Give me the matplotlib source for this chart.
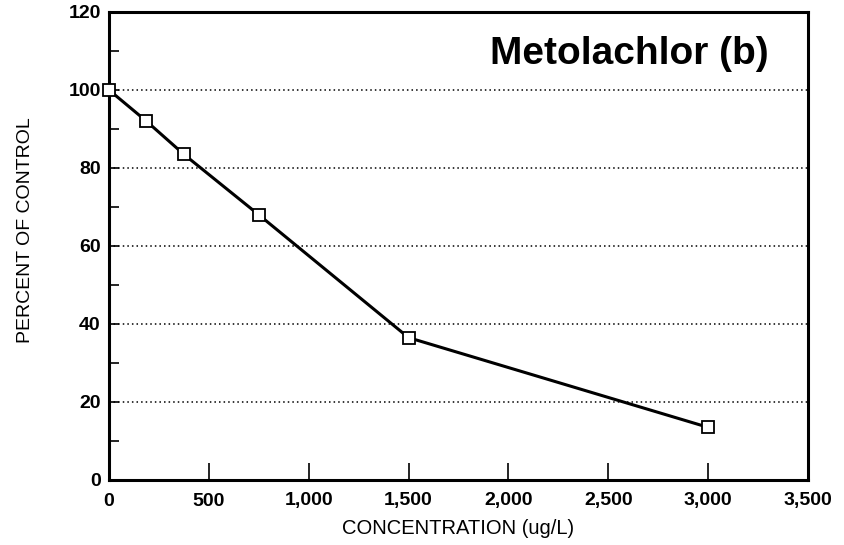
import matplotlib
matplotlib.use("Agg")
import matplotlib.pyplot as plt
from matplotlib.ticker import MultipleLocator, FuncFormatter

concentration = [0, 187.5, 375, 750, 1500, 3000]
percent_control = [100, 92, 83.5, 68, 36.5, 13.5]
grid_levels = [20, 40, 60, 80, 100]
title_text = "Metolachlor (b)"
xlabel_text = "CONCENTRATION (ug/L)"
ylabel_text = "PERCENT OF CONTROL"

plt.rcParams['font.family'] = ['Liberation Sans', 'DejaVu Sans']

fig = plt.figure(figsize=(8.44, 5.45), dpi=100)
ax = fig.add_axes([109/844, 1-480/545, (808-109)/844, (480-12)/545])

for g in grid_levels:
    ax.axhline(g, color='black', lw=1.1, ls=(0, (1, 2.0)), zorder=1)

ax.plot(concentration, percent_control, color='black', lw=2.2, marker='s',
        markersize=9, markerfacecolor='white', markeredgecolor='black',
        markeredgewidth=1.3, zorder=3, clip_on=False)

ax.set_xlim(0, 3500)
ax.set_ylim(0, 120)
ax.xaxis.set_major_locator(MultipleLocator(500))
ax.yaxis.set_major_locator(MultipleLocator(20))
ax.yaxis.set_minor_locator(MultipleLocator(10))
ax.xaxis.set_major_formatter(FuncFormatter(lambda v, p: f"{int(v):,}"))

ax.tick_params(axis='x', which='major', direction='in', length=12, width=1.2,
               labelsize=14, pad=9)
ax.tick_params(axis='y', which='major', direction='in', length=7, width=1.2,
               labelsize=14, pad=6)
ax.tick_params(axis='y', which='minor', direction='in', length=7, width=1.2)
for lbl in ax.get_xticklabels() + ax.get_yticklabels():
    lbl.set_fontweight('bold')

for s in ax.spines.values():
    s.set_linewidth(2.2)

ax.text(0.943, 0.91, title_text, transform=ax.transAxes, ha='right', va='center',
        fontsize=28, fontweight='bold')
ax.set_xlabel(xlabel_text, fontsize=14.5, labelpad=7)
ax.set_ylabel(ylabel_text, fontsize=14)
ax.yaxis.set_label_coords(-0.107, 0.534)

fig.savefig("out.png", dpi=100)
